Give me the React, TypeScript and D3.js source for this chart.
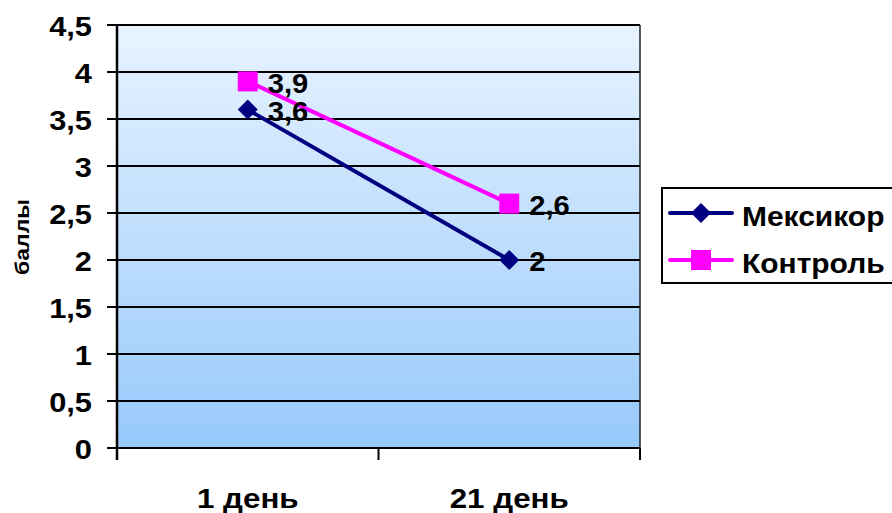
import React from "react";
import * as d3 from "d3";

const categories = ["1 день", "21 день"];
const mexicor = [3.6, 2];
const control = [3.9, 2.6];
const yTicks = [0, 0.5, 1, 1.5, 2, 2.5, 3, 3.5, 4, 4.5];
const seriesNames = ["Мексикор", "Контроль"];

const fmt = (v: number) => String(v).replace(".", ",");

type LabelProps = {
  x: number;
  y: number;
  size: number;
  sx?: number;
  anchor?: "start" | "middle" | "end";
  rotate?: number;
  children: React.ReactNode;
};

// Bold label, slightly widened horizontally
function Label({ x, y, size, sx = 1.1, anchor = "start", rotate = 0, children }: LabelProps) {
  return (
    <text
      transform={`translate(${x},${y}) rotate(${rotate}) scale(${sx},1)`}
      dy="0.36em"
      textAnchor={anchor}
      fontSize={size}
      fontWeight="bold"
    >
      {children}
    </text>
  );
}

export default function App() {
  const W = 892, H = 513;
  const left = 117, right = 640, top = 25, bottom = 448;
  const x = d3.scaleBand().domain(categories).range([left, right]);
  const y = d3.scaleLinear().domain([0, 4.5]).range([bottom, top]);
  const cx = (c: string) => (x(c) as number) + x.bandwidth() / 2;
  const line = d3.line<[number, number]>().x(d => d[0]).y(d => d[1]);
  const font = "Arial, 'Liberation Sans', sans-serif";
  const mPts: [number, number][] = categories.map((c, i) => [cx(c), y(mexicor[i])]);
  const cPts: [number, number][] = categories.map((c, i) => [cx(c), y(control[i])]);
  const diamond = (px: number, py: number, r: number) =>
    `M${px},${py - r}L${px + r},${py}L${px},${py + r}L${px - r},${py}Z`;

  return (
    <svg width={W} height={H} style={{ position: "absolute", left: 0, top: 0 }} fontFamily={font}>
      <defs>
        <linearGradient id="bg" x1="0" y1="0" x2="0" y2="1">
          <stop offset="0" stopColor="#e8f3ff" />
          <stop offset="1" stopColor="#97c9fb" />
        </linearGradient>
      </defs>
      <rect x={0} y={0} width={W} height={H} fill="#fff" />
      <rect x={left} y={top} width={right - left} height={bottom - top} fill="url(#bg)" />
      {yTicks.map(t => (
        <g key={t}>
          <line x1={left} x2={right} y1={y(t)} y2={y(t)} stroke="#000" strokeWidth={2} />
          <line x1={left - 10} x2={left} y1={y(t)} y2={y(t)} stroke="#000" strokeWidth={2} />
          <Label x={92} y={y(t) + 1} size={28} sx={1.1} anchor="end">{fmt(t)}</Label>
        </g>
      ))}
      <line x1={right} x2={right} y1={top} y2={bottom} stroke="#222" strokeWidth={1.5} />
      <line x1={left} x2={left} y1={top} y2={bottom + 12} stroke="#000" strokeWidth={2.5} />
      {[left, ...categories.map(c => (x(c) as number) + x.bandwidth())].map((tx, i) => (
        <line key={i} x1={tx} x2={tx} y1={bottom} y2={bottom + 12} stroke="#000" strokeWidth={2} />
      ))}
      {categories.map(c => (
        <Label key={c} x={cx(c)} y={498} size={28} sx={1.12} anchor="middle">{c}</Label>
      ))}
      <Label x={21} y={237} size={21} sx={1.1} anchor="middle" rotate={-90}>баллы</Label>

      <path d={line(mPts) as string} fill="none" stroke="#000080" strokeWidth={4} />
      <path d={line(cPts) as string} fill="none" stroke="#ff00ff" strokeWidth={4} />
      {mPts.map((p, i) => (
        <g key={"m" + i}>
          <path d={diamond(p[0], p[1], 10)} fill="#000080" />
          <Label x={p[0] + 20} y={p[1] + 1.5} size={27} sx={1.08}>{fmt(mexicor[i])}</Label>
        </g>
      ))}
      {cPts.map((p, i) => (
        <g key={"c" + i}>
          <rect x={p[0] - 10} y={p[1] - 10} width={20} height={20} fill="#ff00ff" />
          <Label x={p[0] + 20} y={p[1] + 1.5} size={27} sx={1.08}>{fmt(control[i])}</Label>
        </g>
      ))}

      <rect x={662} y={188} width={240} height={95} fill="#fff" stroke="#000" strokeWidth={2} />
      {seriesNames.map((n, i) => {
        const ly = 213 + i * 47;
        const col = i === 0 ? "#000080" : "#ff00ff";
        return (
          <g key={n}>
            <line x1={670} x2={732} y1={ly} y2={ly} stroke={col} strokeWidth={4} strokeLinecap="round" />
            {i === 0 ? (
              <path d={diamond(701, ly, 10)} fill={col} />
            ) : (
              <rect x={691} y={ly - 10} width={20} height={20} fill={col} />
            )}
            <Label x={742} y={ly + 2.5} size={28} sx={1.07}>{n}</Label>
          </g>
        );
      })}
    </svg>
  );
}
